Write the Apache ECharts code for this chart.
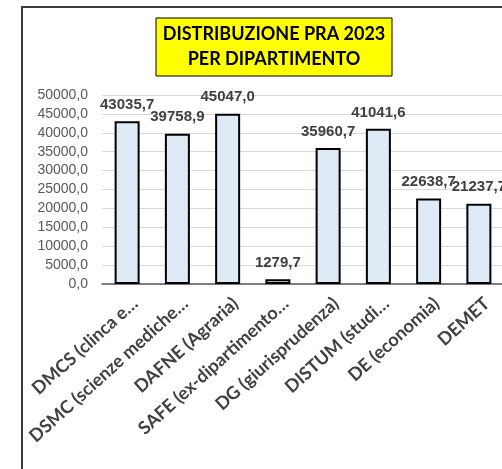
<!DOCTYPE html>
<html>
<head>
<meta charset="utf-8">
<script src="https://cdn.jsdelivr.net/npm/echarts@6/dist/echarts.min.js"></script>
<style>
  html, body { margin: 0; padding: 0; background: #fff; }
  #chart { width: 502px; height: 469px; }
</style>
</head>
<body>
<div id="chart"></div>
<script>
var categories = [
    'DMCS (clinca e…',
    'DSMC (scienze mediche…',
    'DAFNE (Agraria)',
    'SAFE (ex-dipartimento…',
    'DG (giurisprudenza)',
    'DISTUM (studi…',
    'DE (economia)',
    'DEMET'
];
var values = [43035.7, 39758.9, 45047.0, 1279.7, 35960.7, 41041.6, 22638.7, 21237.7];
var yTicks = { min: 0, max: 50000, step: 5000 };
var titleLines = ['DISTRIBUZIONE PRA 2023', 'PER DIPARTIMENTO'];

// formato italiano: virgola decimale, una cifra
function fmt(v) {
    return Number(v).toFixed(1).replace('.', ',');
}

var chart = echarts.init(document.getElementById('chart'));
var option = {
    animation: false,
    backgroundColor: '#fff',
    graphic: [{
        type: 'rect',
        silent: true,
        shape: { x: 22, y: 7, width: 700, height: 700 },
        style: { fill: 'none', stroke: '#3a3a3a', lineWidth: 2 },
        z: -1
    }, {
        // riquadro giallo del titolo
        type: 'rect',
        silent: true,
        shape: { x: 156, y: 18, width: 236, height: 58 },
        style: { fill: '#ffff00', stroke: '#000', lineWidth: 1 }
    }, {
        type: 'text',
        silent: true,
        x: 274,
        y: 47,
        style: {
            text: titleLines.join('\n'),
            align: 'center',
            verticalAlign: 'middle',
            lineHeight: 25,
            font: 'bold 18px Lato',
            fill: '#000'
        }
    }],
    grid: {
        left: 102,
        top: 95,
        width: 402,
        height: 189,
        outerBoundsMode: 'none'
    },
    xAxis: {
        type: 'category',
        data: categories,
        axisTick: { show: false },
        axisLine: { lineStyle: { color: '#595959', width: 1.5 } },
        axisLabel: {
            interval: 0,
            rotate: 42,
            margin: 8,
            verticalAlign: 'top',
            lineHeight: 24,
            fontFamily: 'Lato',
            fontWeight: 'bold',
            fontSize: 18,
            color: '#404040'
        }
    },
    yAxis: {
        type: 'value',
        min: yTicks.min,
        max: yTicks.max,
        interval: yTicks.step,
        axisLine: { show: false },
        axisTick: { show: false },
        splitLine: { lineStyle: { color: '#d9d9d9', width: 1 } },
        axisLabel: {
            margin: 14,
            fontFamily: 'Liberation Sans',
            fontSize: 14,
            color: '#595959',
            formatter: fmt
        }
    },
    series: [{
        type: 'bar',
        data: values,
        barWidth: 25,
        itemStyle: {
            color: '#deebf7',
            borderColor: '#000',
            borderWidth: 2
        },
        label: {
            show: true,
            position: 'top',
            distance: 9,
            fontFamily: 'Liberation Sans',
            fontWeight: 'bold',
            fontSize: 15,
            color: '#404040',
            formatter: function (p) { return fmt(p.value); }
        }
    }]
};
chart.setOption(option);
</script>
</body>
</html>
